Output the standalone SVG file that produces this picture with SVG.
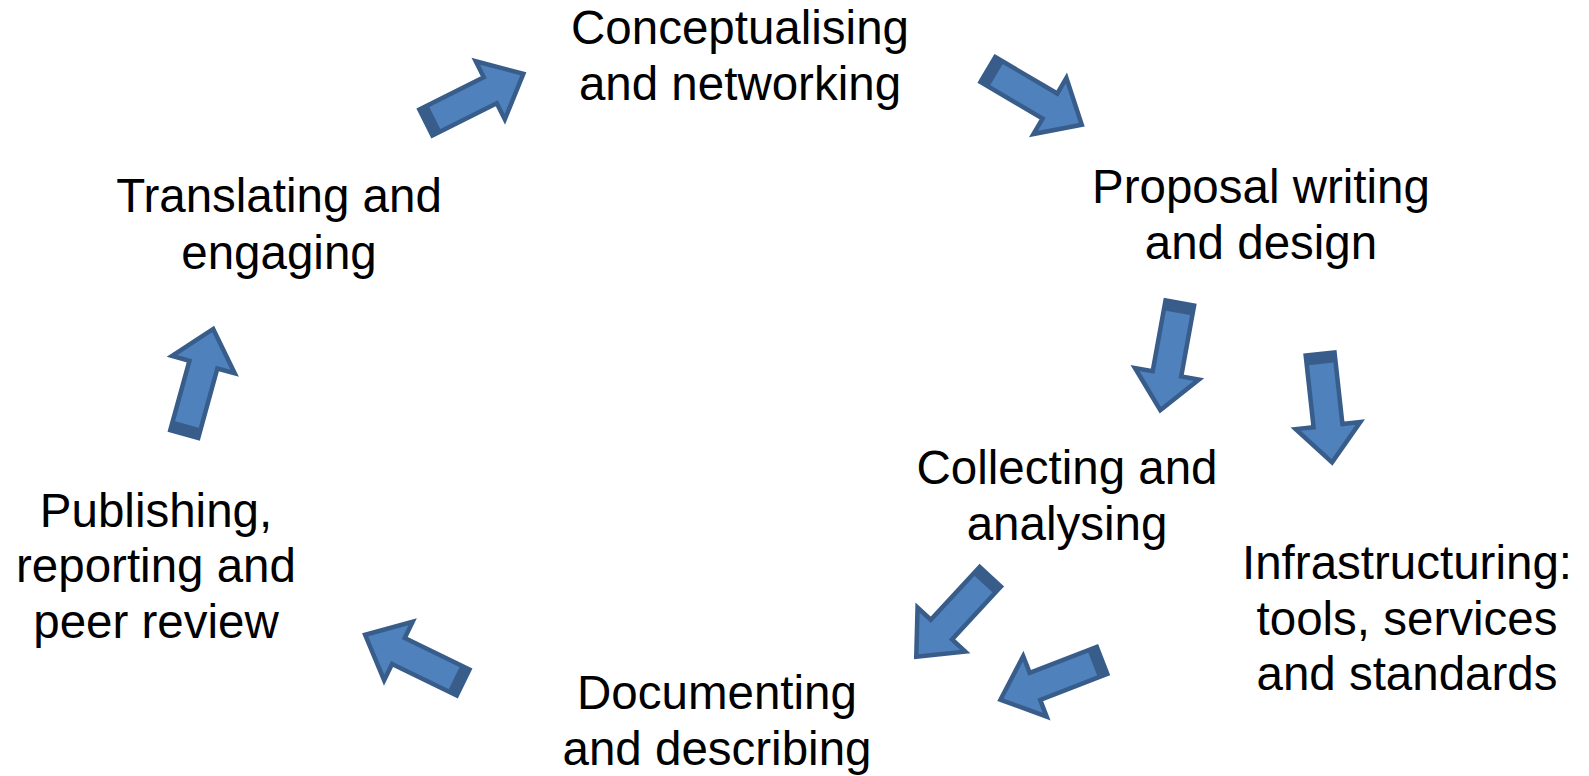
<svg xmlns="http://www.w3.org/2000/svg" width="1589" height="776" viewBox="0 0 1589 776">
<defs>
<style>
.lbl{font-family:"Liberation Sans",Arial,sans-serif;font-size:47.5px;fill:#000;text-anchor:middle}
.arr{fill:#4F81BD;stroke:#385D8A;stroke-width:4.5;stroke-linejoin:miter}
.band{fill:#385D8A}
</style>
<g id="blockArrow">
<path class="arr" d="M1,-14.5 H73 V-32.5 L110,0 L73,32.5 V14.5 H1 Z"/>
<path class="band" d="M0,-15 H11 V15 H0 Z"/>
</g>
</defs>
<rect width="1589" height="776" fill="#fff"/>
<g id="connectors">
<use href="#blockArrow" transform="translate(425,123) rotate(-26.6)"/>
<use href="#blockArrow" transform="translate(987,69) rotate(30.5)"/>
<use href="#blockArrow" transform="translate(1180,302) rotate(100.3)"/>
<use href="#blockArrow" transform="translate(1320,353) rotate(83.7)"/>
<use href="#blockArrow" transform="translate(1103,660) rotate(158.8)"/>
<use href="#blockArrow" transform="translate(991,576) rotate(132.8)"/>
<use href="#blockArrow" transform="translate(464,683) rotate(-154)"/>
<use href="#blockArrow" transform="translate(184,435) rotate(-74.6)"/>
</g>
<g id="conceptualising"><text class="lbl" x="740" y="44">Conceptualising</text><text class="lbl" x="740" y="100">and networking</text></g>
<g id="proposal"><text class="lbl" x="1261" y="203">Proposal writing</text><text class="lbl" x="1261" y="259">and design</text></g>
<g id="collecting"><text class="lbl" x="1067" y="484">Collecting and</text><text class="lbl" x="1067" y="540">analysing</text></g>
<g id="infrastructuring"><text class="lbl" x="1407" y="579">Infrastructuring:</text><text class="lbl" x="1407" y="635">tools, services</text><text class="lbl" x="1407" y="690">and standards</text></g>
<g id="documenting"><text class="lbl" x="717" y="709">Documenting</text><text class="lbl" x="717" y="765">and describing</text></g>
<g id="publishing"><text class="lbl" x="156" y="527">Publishing,</text><text class="lbl" x="156" y="582">reporting and</text><text class="lbl" x="156" y="638">peer review</text></g>
<g id="translating"><text class="lbl" x="279" y="212">Translating and</text><text class="lbl" x="279" y="269">engaging</text></g>
</svg>
